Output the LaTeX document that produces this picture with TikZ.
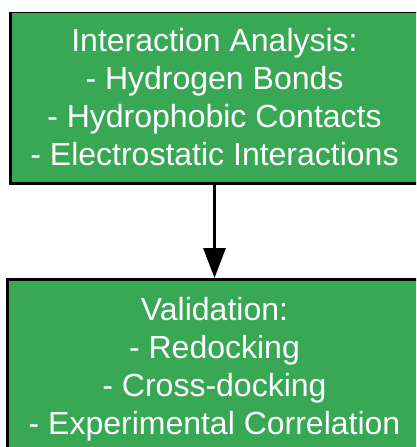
\documentclass[tikz,border=0pt]{standalone}
\usepackage{fontspec}
\setmainfont{Liberation Sans}
\usetikzlibrary{arrows.meta}
\definecolor{stagegreen}{RGB}{57,168,85}
\begin{document}
\begin{tikzpicture}[x=1pt,y=-1pt,
    stage/.style={draw=black,line width=3pt,fill=stagegreen,text=white,align=center,
      font=\fontsize{32}{38}\selectfont,inner sep=0pt}]
			\useasboundingbox (0,0) rectangle (416,447);
			\clip (0,12) rectangle (416,447);
			\node[stage,minimum width=408pt,minimum height=172pt] (analysis) at (214.5,97) {Interaction Analysis:\\- Hydrogen Bonds\\- Hydrophobic Contacts\\- Electrostatic Interactions};
			\node[stage,minimum width=414pt,minimum height=179pt] (validation) at (214.5,369) {Validation:\\- Redocking\\- Cross-docking\\- Experimental Correlation};
			
			\path (analysis) edge[-{Triangle[length=30pt, width=22pt]}, line width=3pt] (validation);
\end{tikzpicture}
\end{document}
